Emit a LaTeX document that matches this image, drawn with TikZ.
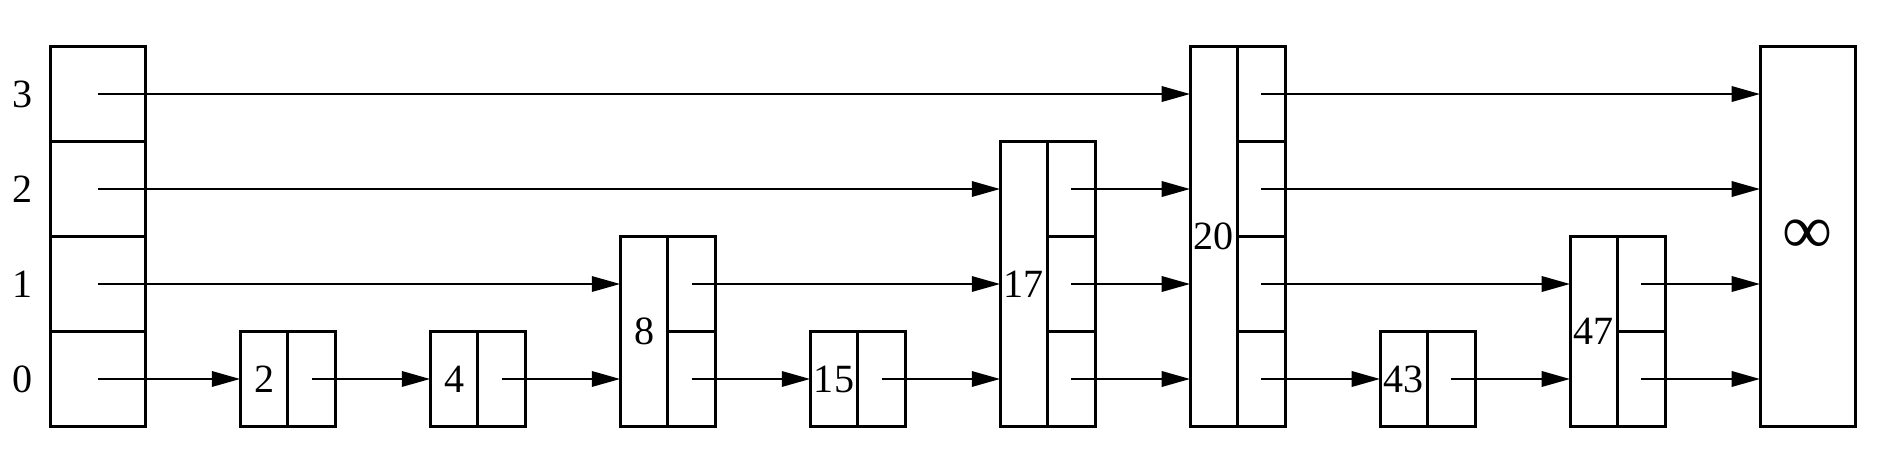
\documentclass[tikz,border=0pt]{standalone}
\usepackage{fontspec}
\setmainfont{Liberation Serif}
\usetikzlibrary{arrows.meta}
\tikzset{
  box/.style={draw, inner sep=0pt, outer sep=0pt, anchor=south west, minimum width=0.5cm},
  cell/.style={draw, inner sep=0pt, outer sep=0pt, anchor=south west, minimum width=0.5cm, minimum height=1cm},
  hcell/.style={draw, inner sep=0pt, outer sep=0pt, anchor=south west, minimum width=1cm, minimum height=1cm},
  lvl/.style={inner sep=0pt},
  link/.style={-{Triangle[length=3mm,width=1.6mm]}}
}
\begin{document}
\begin{tikzpicture}[line width=0.85pt, font=\fontsize{12}{14}\selectfont]
\useasboundingbox (0,0) rectangle (19.76,4.86);
% header
\foreach \l in {0,...,3} {
  \node[hcell] (h\l) at (0.53,0.37+\l) {};
  \node[lvl] (lab\l) at (0.24,0.87+\l) {\l};
}
% nodes: key / index / top level
\foreach \k/\i/\t in {2/1/0, 4/2/0, 8/3/1, 15/4/0, 17/5/2, 20/6/3, 43/7/0, 47/8/1} {
  \node[box, minimum height={(\t+1)*1cm}] (v\k) at (0.53+2*\i,0.37) {\k};
  \foreach \l in {0,...,\t} {
    \node[cell] (c\k-\l) at (1.03+2*\i,0.37+\l) {};
  }
}
\node[draw, inner sep=0pt, outer sep=0pt, anchor=south west, minimum width=1cm, minimum height=4cm,
  font=\fontsize{21}{24}\selectfont] (inf) at (18.53,0.37) {∞};
% links
\foreach \s/\d in {h0/v2, c2-0/v4, c4-0/v8, c8-0/v15, c15-0/v17, c17-0/v20, c20-0/v43, c43-0/v47, c47-0/inf,
                   h1/v8, c8-1/v17, c17-1/v20, c20-1/v47, c47-1/inf,
                   h2/v17, c17-2/v20, c20-2/inf,
                   h3/v20, c20-3/inf} {
  \draw[link] (\s.center) -- (\s.center -| \d.west);
}
\end{tikzpicture}
\end{document}
